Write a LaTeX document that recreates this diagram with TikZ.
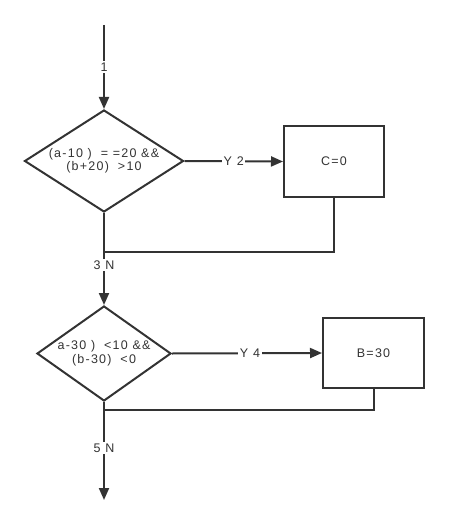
\documentclass[tikz,border=0pt]{standalone}
\usepackage{fontspec}
\setmainfont[LetterSpace=10]{Liberation Sans}
\usetikzlibrary{arrows.meta,positioning,shapes.geometric}
\definecolor{inkcolor}{RGB}{51,51,51}
\tikzset{
  flowln/.style={-{Triangle[length=12pt,width=10pt]}, line width=2pt, inkcolor},
  joinln/.style={line width=2pt, inkcolor},
  decision/.style={diamond, draw=inkcolor, line width=2pt, inner sep=0pt,
    align=center, text=inkcolor},
  process/.style={rectangle, draw=inkcolor, line width=2pt, inner sep=0pt,
    align=center, text=inkcolor},
  lbl/.style={fill=white, inner sep=1.5pt, text=inkcolor},
}
\begin{document}
\begin{tikzpicture}[x=1pt, y=-1pt, font=\fontsize{12.5}{13.5}\selectfont]
    \useasboundingbox (0,0) rectangle (449,526);
    \coordinate (start) at (104,25);
    \node[decision, minimum width=159, minimum height=102, aspect=1.56]
      (cond1) at (104,161) {(a-10 )\,\, = =20 \&\&\\(b+20)\,\, >10};
    \node[process, minimum width=100, minimum height=71]
      (setc) at (334,161.5) {C=0};
    \coordinate (join1) at (104,252);
    \node[decision, minimum width=134, minimum height=95, aspect=1.41]
      (cond2) at (104,353.5) {a-30 )\,\, <10 \&\&\\(b-30)\,\, <0};
    \node[process, minimum width=101, minimum height=70]
      (setb) at (373.5,353) {B=30};
    \coordinate (join2) at (104,410);
    \coordinate (stop) at (104,500);
    % first decision
    \draw[flowln] (start) -- node[lbl] {1} (cond1.north);
    \draw[flowln] (cond1.east) -- node[lbl] {Y 2} (setc.west);
    \draw[joinln] (setc.south) |- (join1);
    \draw[flowln] (cond1.south) -- node[lbl, yshift=-6pt] {3 N} (cond2.north);
    % second decision
    \draw[flowln] (cond2.east) -- node[lbl, xshift=3pt] {Y 4} (setb.west);
    \draw[joinln] (setb.south) |- (join2);
    \draw[flowln] (cond2.south) -- node[lbl, yshift=3pt] {5 N} (stop);
  \end{tikzpicture}
\end{document}
